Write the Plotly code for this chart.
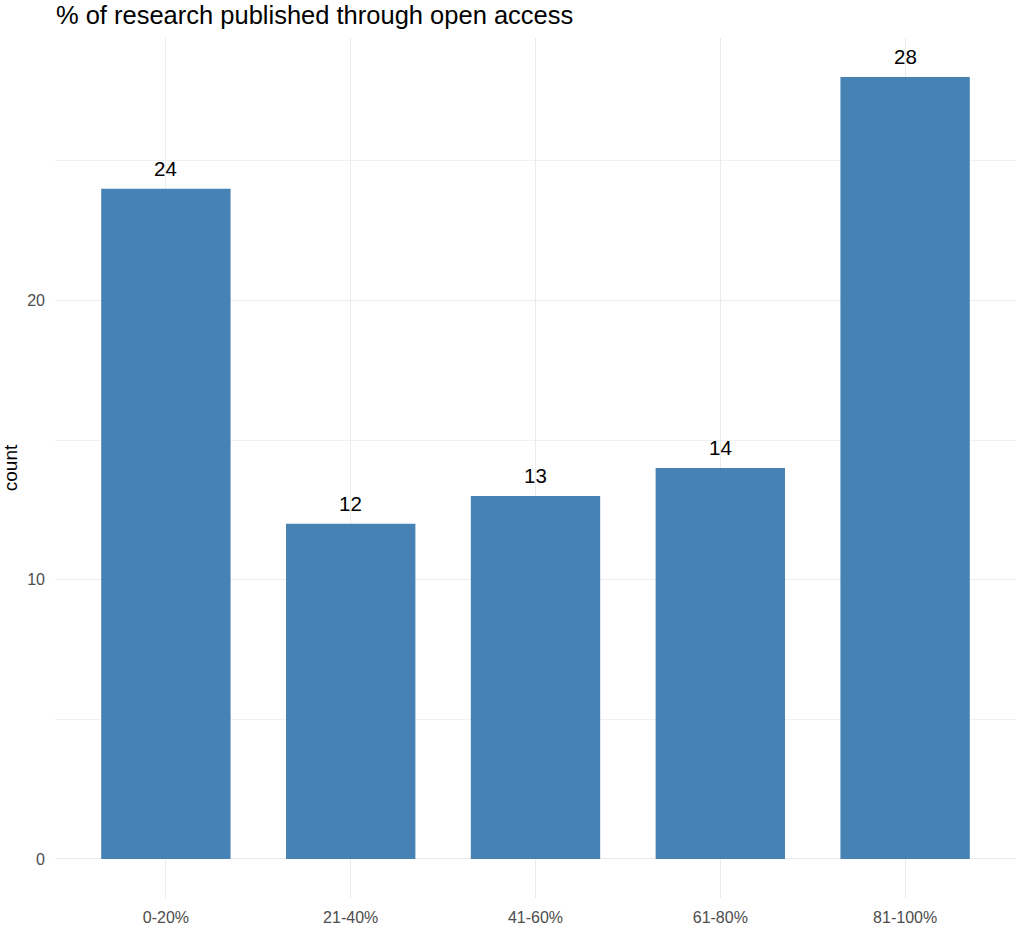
import plotly.graph_objects as go

categories = ["0-20%", "21-40%", "41-60%", "61-80%", "81-100%"]
counts = [24, 12, 13, 14, 28]
title_text = "% of research published through open access"

fig = go.Figure()
fig.add_trace(go.Bar(
    x=categories, y=counts, width=0.7,
    marker=dict(color="#4682B4", line=dict(width=0)),
    hoverinfo="x+y",
))
for c, v in zip(categories, counts):
    fig.add_annotation(x=c, y=v, text=str(v), showarrow=False,
                       yanchor="bottom", yshift=7,
                       font=dict(size=20.5, color="black", family="Liberation Sans, Arial"))

fig.update_layout(
    width=1016, height=928,
    margin=dict(l=55, r=0, t=38, b=30),
    paper_bgcolor="white", plot_bgcolor="white",
    font=dict(family="Liberation Sans, Arial", color="#4d4d4d"),
    title=dict(text=title_text, x=0.055, xanchor="left", y=0.984, yanchor="middle",
               font=dict(size=25.5, color="black")),
    showlegend=False,
    bargap=0.3,
)
fig.update_xaxes(range=[-0.6, 4.6], showgrid=True, gridcolor="#ebebeb", gridwidth=1.2,
                 zeroline=False, showline=False, ticks="", tickfont=dict(size=16, color="#4d4d4d"),
                 ticklabelstandoff=8)
fig.update_yaxes(range=[-1.4, 29.4], tickvals=[0, 10, 20], showgrid=True, gridcolor="#ebebeb",
                 gridwidth=1.2, zeroline=False, showline=False, ticks="",
                 tickfont=dict(size=16, color="#4d4d4d"), ticklabelstandoff=9,
                 minor=dict(tickvals=[5, 15, 25], showgrid=True, gridcolor="#f1f1f1", gridwidth=0.9),
                 title=dict(text="count", font=dict(size=19, color="black"), standoff=10))

fig.write_html("out.html")
